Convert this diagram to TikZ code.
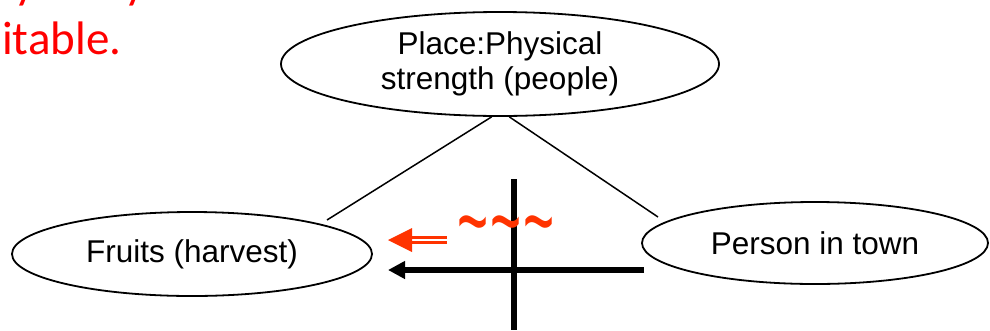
\documentclass[tikz,border=0pt]{standalone}
\usepackage{fontspec}
\setmainfont{Liberation Sans}
\newfontfamily\calib{Carlito}
\usetikzlibrary{shapes.geometric,arrows.meta,calc}
\definecolor{redtxt}{RGB}{255,0,0}
\definecolor{redarr}{RGB}{255,51,0}
\begin{document}
\begin{tikzpicture}[x=1pt,y=-1pt,
  ell/.style={draw, ellipse, line width=1.8pt, inner sep=0pt, align=center,
    font=\fontsize{31.5}{35}\selectfont},
  link/.style={line width=1.5pt},
  thick6/.style={line width=6pt},
  redtext/.style={anchor=base west, inner sep=0pt, text=redtxt,
    font=\calib\fontsize{47}{55}\selectfont}]
\useasboundingbox (0,0) rectangle (990,330);
\begin{scope}
  \clip (0,0) rectangle (990,330);
  \node[redtext] (ya) at (14,-2) {y};
  \node[redtext] (yb) at (124,-2) {y};
  \node[redtext] (itab) at (2,54) {itable.};
\end{scope}
\node[ell, minimum width=438pt, minimum height=104pt] (top) at (500,64) {Place:Physical\\strength (people)};
\node[ell, minimum width=360pt, minimum height=84pt] (fruit) at (192,254) {Fruits (harvest)};
\node[ell, minimum width=346pt, minimum height=82pt] (person) at (815,243) {Person in town};
\coordinate (lA) at (327,220);
\coordinate (rA) at (658,217);
\draw[link] (top.261) -- (lA);
\draw[link] (top.280) -- (rA);
\coordinate (vT) at (514,179);
\coordinate (vB) at (514,330);
\draw[thick6] (vT) -- (vB);
\coordinate (bS) at (644,270);
\coordinate (bE) at (388,270);
\draw[thick6, -{Triangle[length=17pt,width=17pt]}] (bS) -- (bE);
\coordinate (rS) at (447,240);
\coordinate (rM) at (411,240);
\coordinate (rE) at (388,240);
\draw[redarr, line width=2.5pt, double=white, double distance=2.5pt] (rS) -- (rM);
\fill[redarr] (rE) -- ($(rM)+(1,-12)$) -- ($(rM)+(1,12)$) -- cycle;
\node[inner sep=0pt, text=redarr, font=\fontsize{56}{60}\selectfont] (wave) at (506,236) {\scalebox{0.95}[1.8]{\textasciitilde\kern2pt\textasciitilde\kern2pt\textasciitilde}};
\end{tikzpicture}
\end{document}
